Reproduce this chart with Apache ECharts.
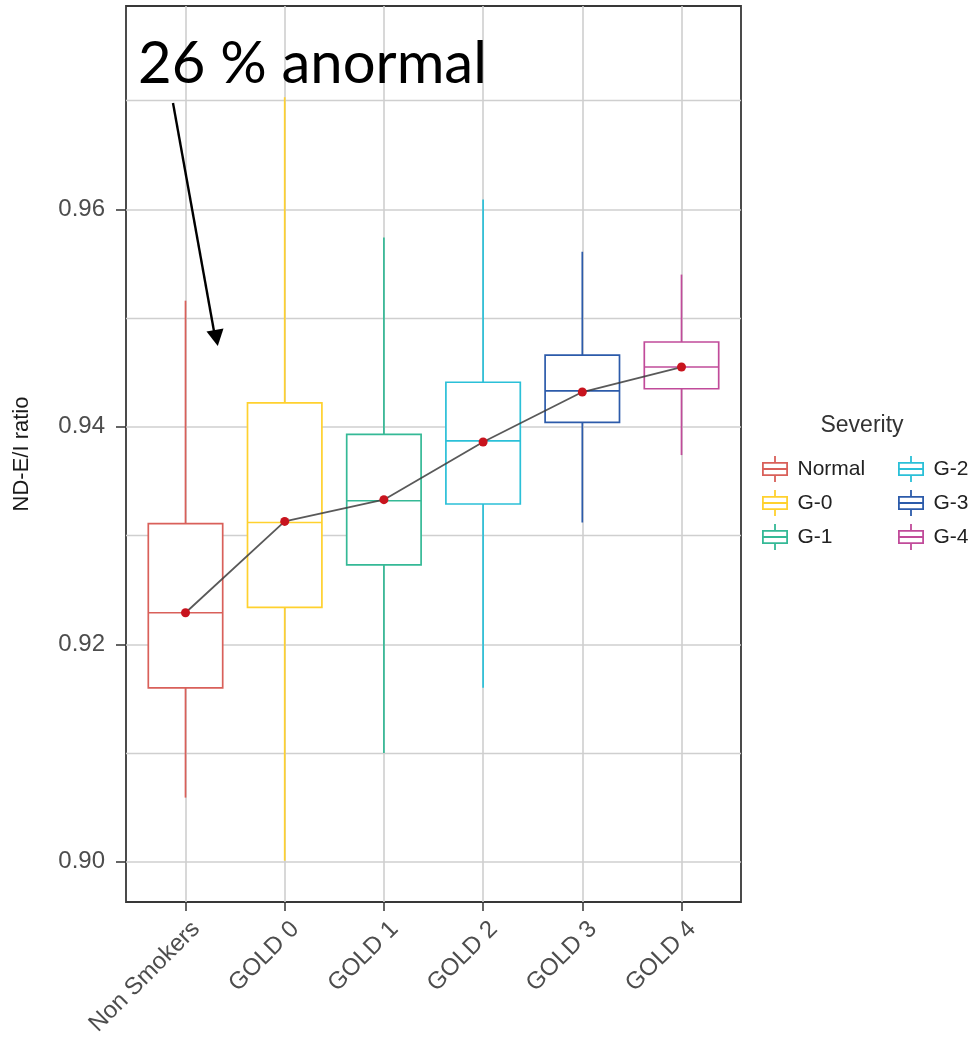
<!DOCTYPE html>
<html>
<head>
<meta charset="utf-8">
<script src="https://cdn.jsdelivr.net/npm/echarts@6/dist/echarts.min.js"></script>
<style>
html,body{margin:0;padding:0;background:#ffffff;}
#chart{width:971px;height:1038px;}
</style>
</head>
<body>
<div id="chart"></div>
<script>
// ---- data ----
const categories = ['Non Smokers', 'GOLD 0', 'GOLD 1', 'GOLD 2', 'GOLD 3', 'GOLD 4'];
const severityNames = ['Normal', 'G-0', 'G-1', 'G-2', 'G-3', 'G-4'];
const whiskerLow  = [0.9059, 0.9001, 0.9100, 0.9160, 0.9312, 0.9374];
const q1          = [0.9160, 0.9234, 0.9273, 0.9329, 0.9404, 0.9435];
const median      = [0.9229, 0.9312, 0.9332, 0.9387, 0.9433, 0.9455];
const q3          = [0.9311, 0.9422, 0.9393, 0.9441, 0.9466, 0.9478];
const whiskerHigh = [0.9516, 0.9703, 0.9574, 0.9609, 0.9561, 0.9540];
const means       = [0.9229, 0.9313, 0.9333, 0.9386, 0.9432, 0.9455];
const majorTicks  = [0.90, 0.92, 0.94, 0.96];
const minorTicks  = [0.91, 0.93, 0.95, 0.97];
const yMin = 0.8963, yMax = 0.9787;

// ---- styles ----
const boxColors = ['#D9605A', '#FFD12E', '#35B996', '#2BC0D8', '#2C5BAA', '#C14B9A'];
const FONT = 'Liberation Sans, Arial, Helvetica, sans-serif';
const gridGray = '#cfcfcf';
const boxIcon = 'path://M0 6H26V7.8H0Z M0 18.2H26V20H0Z M0 6H1.8V20H0Z M24.2 6H26V20H24.2Z M0 12.1H26V13.9H0Z M12.1 0H13.9V6H12.1Z M12.1 20H13.9V26H12.1Z';

const chart = echarts.init(document.getElementById('chart'), null, {renderer: 'canvas'});

const boxSeries = severityNames.map(function (name, i) {
  const col = boxColors[i];
  return {
    type: 'custom',
    name: name,
    xAxisIndex: 0,
    yAxisIndex: 2,
    itemStyle: {color: col},
    encode: {x: 0, y: [1, 2, 3, 4, 5]},
    data: [[categories[i], whiskerLow[i], q1[i], median[i], q3[i], whiskerHigh[i]]],
    z: 2,
    silent: true,
    renderItem: function (params, api) {
      const xi = api.value(0);
      const pLow = api.coord([xi, api.value(1)]);
      const pQ1 = api.coord([xi, api.value(2)]);
      const pMed = api.coord([xi, api.value(3)]);
      const pQ3 = api.coord([xi, api.value(4)]);
      const pHigh = api.coord([xi, api.value(5)]);
      const half = api.size([1, 0])[0] * 0.375;
      const cx = pMed[0];
      const lw = 1.7;
      return {
        type: 'group',
        children: [
          {type: 'line', shape: {x1: cx, y1: pHigh[1], x2: cx, y2: pQ3[1]}, style: {stroke: col, lineWidth: lw}},
          {type: 'line', shape: {x1: cx, y1: pQ1[1], x2: cx, y2: pLow[1]}, style: {stroke: col, lineWidth: lw}},
          {type: 'rect', shape: {x: cx - half, y: pQ3[1], width: 2 * half, height: pQ1[1] - pQ3[1]}, style: {fill: '#ffffff', stroke: col, lineWidth: lw}},
          {type: 'line', shape: {x1: cx - half, y1: pMed[1], x2: cx + half, y2: pMed[1]}, style: {stroke: col, lineWidth: lw}}
        ]
      };
    }
  };
});

function legendData(from, to) {
  const out = [];
  for (let i = from; i < to; i++) {
    out.push({name: severityNames[i], icon: boxIcon, itemStyle: {color: boxColors[i], borderWidth: 0}});
  }
  return out;
}

const option = {
  backgroundColor: '#ffffff',
  animation: false,
  textStyle: {fontFamily: FONT},
  grid: [
    {left: 135.9, right: 239.9, top: 6, bottom: 136, outerBoundsMode: 'none', containLabel: false},
    {left: 126, right: 230, top: 6, bottom: 136, outerBoundsMode: 'none', containLabel: false,
     show: true, borderColor: '#383838', borderWidth: 1.8, backgroundColor: 'transparent'}
  ],
  xAxis: [
    {
      gridIndex: 0, type: 'category', data: categories, boundaryGap: true,
      axisLine: {show: false, onZero: false},
      axisTick: {show: true, alignWithLabel: true, length: 9, lineStyle: {color: '#333333', width: 1.5}},
      axisLabel: {show: true, interval: 0, rotate: 45, fontSize: 24, color: '#4d4d4d', fontFamily: FONT,
                  align: 'right', verticalAlign: 'top', margin: 17, padding: [0, -3, 0, 0]},
      splitLine: {show: false}
    },
    {
      gridIndex: 1, type: 'value', min: -0.6, max: 5.6, splitNumber: 6,
      axisLine: {show: false, onZero: false},
      axisTick: {show: false, customValues: [0, 1, 2, 3, 4, 5]},
      axisLabel: {show: false},
      splitLine: {show: true, lineStyle: {color: gridGray, width: 1.6}}
    }
  ],
  yAxis: [
    {
      gridIndex: 1, type: 'value', min: yMin, max: yMax, position: 'left',
      name: 'ND-E/I ratio', nameLocation: 'middle', nameGap: 93,
      nameTextStyle: {fontSize: 22, color: '#1a1a1a', fontFamily: FONT},
      axisLine: {show: false, onZero: false},
      axisTick: {show: true, length: 10, customValues: majorTicks, lineStyle: {color: '#333333', width: 1.5}},
      axisLabel: {show: true, customValues: majorTicks, fontSize: 24, color: '#4d4d4d', margin: 21, fontFamily: FONT,
                  formatter: function (v) { return Number(v).toFixed(2); }},
      splitLine: {show: true, lineStyle: {color: gridGray, width: 1.6}}
    },
    {
      gridIndex: 1, type: 'value', min: yMin, max: yMax, position: 'left',
      axisLine: {show: false, onZero: false},
      axisTick: {show: false, customValues: minorTicks},
      axisLabel: {show: false, customValues: minorTicks},
      splitLine: {show: true, lineStyle: {color: gridGray, width: 1.4}}
    },
    {
      gridIndex: 0, type: 'value', min: yMin, max: yMax, show: false,
      axisLine: {onZero: false},
      splitLine: {show: false}
    }
  ],
  legend: [
    {
      orient: 'vertical', left: 757, top: 451, itemWidth: 27, itemHeight: 26, itemGap: 8,
      selectedMode: false, data: legendData(0, 3),
      textStyle: {fontSize: 21, color: '#222222', fontFamily: FONT, padding: [0, 0, 0, 4]}
    },
    {
      orient: 'vertical', left: 893, top: 451, itemWidth: 27, itemHeight: 26, itemGap: 8,
      selectedMode: false, data: legendData(3, 6),
      textStyle: {fontSize: 21, color: '#222222', fontFamily: FONT, padding: [0, 0, 0, 4]}
    }
  ],
  graphic: [
    {type: 'text', left: 138, top: 35, z: 100,
     style: {text: '26 % anormal', fontSize: 58, fontFamily: 'Lato, Carlito, Open Sans, sans-serif', fill: '#000000'}},
    {type: 'line', z: 100, shape: {x1: 173, y1: 103, x2: 214.5, y2: 334}, style: {stroke: '#000000', lineWidth: 2.4}},
    {type: 'polygon', z: 100, shape: {points: [[206.5, 331.5], [223.5, 328.5], [217.8, 346]]}, style: {fill: '#000000'}},
    {type: 'text', z: 100, x: 862, y: 426,
     style: {text: 'Severity', fontSize: 23, fontFamily: FONT, fill: '#333333', align: 'center', verticalAlign: 'middle'}}
  ],
  series: boxSeries.concat([
    {
      type: 'line', name: 'mean', xAxisIndex: 0, yAxisIndex: 2,
      data: means, z: 5, silent: true,
      symbol: 'circle', symbolSize: 9, showSymbol: true,
      lineStyle: {color: '#3c3c3c', width: 1.8, opacity: 0.85},
      itemStyle: {color: '#C8141E', borderWidth: 0}
    }
  ])
};

chart.setOption(option);
</script>
</body>
</html>
